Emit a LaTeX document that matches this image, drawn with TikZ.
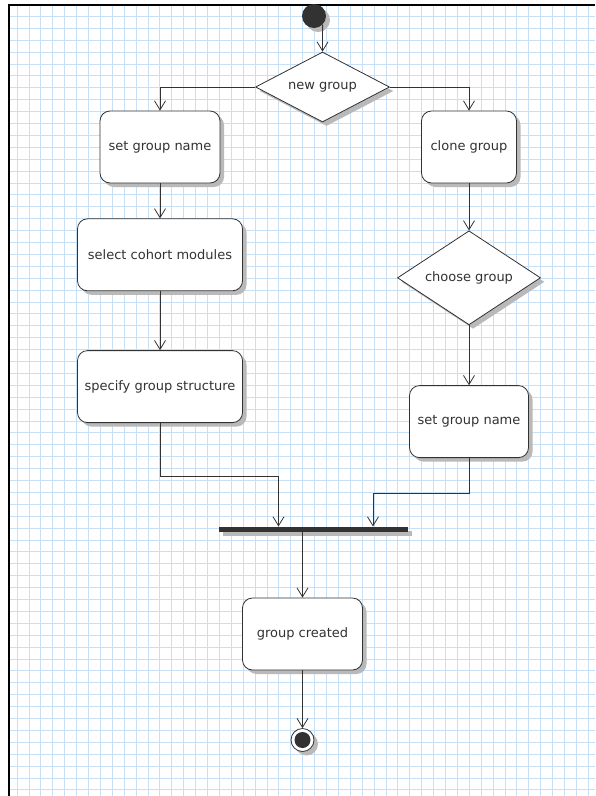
\documentclass[tikz,border=0pt]{standalone}
\usepackage{fontspec}
\setmainfont{DejaVu Sans}
\usepackage{xcolor}
\definecolor{gridblue}{RGB}{200,224,246}
\definecolor{ink}{RGB}{50,50,50}
\definecolor{shade}{RGB}{185,185,185}
\usepackage{tikz}
\usetikzlibrary{shapes.geometric,arrows.meta,positioning,shadows}

\begin{document}
\begin{tikzpicture}[x=1pt, y=-1pt,
  gridline/.style={draw=gridblue, line width=1.1pt},
  greyshadow/.style={drop shadow={shadow xshift=4pt, shadow yshift=-4pt, fill=shade, opacity=1}},
  actbox/.style={draw=ink, fill=white, rounded corners=10pt, font=\fontsize{13}{15}\selectfont, text=ink, align=center, minimum height=72pt, line width=0.8pt, greyshadow},
  decision/.style={diamond, aspect=2, inner sep=0pt, draw=ink, fill=white, font=\fontsize{13}{15}\selectfont, text=ink, line width=0.8pt, greyshadow},
  startdot/.style={circle, fill=ink, minimum size=24pt, inner sep=0pt, greyshadow},
  endring/.style={circle, draw=ink, fill=white, minimum size=23pt, inner sep=0pt, line width=0.8pt, greyshadow},
  enddot/.style={circle, fill=ink, minimum size=16pt, inner sep=0pt},
  joinbar/.style={rectangle, fill=ink, minimum width=189pt, minimum height=5.5pt, inner sep=0pt, greyshadow},
  arrow/.style={-{Straight Barb[length=9pt, width=11pt]}, draw=ink, line width=0.8pt}
]
\useasboundingbox (0,0) rectangle (595,796);

% grid paper and frame
\foreach \i in {0,...,48}
  \draw[gridline] ({round(16.7+11.9*\i)+0.5},5) -- ({round(16.7+11.9*\i)+0.5},796);
\foreach \j in {0,...,65}
  \draw[gridline] (9,{round(16+11.9*\j)+0.5}) -- (595,{round(16+11.9*\j)+0.5});
\draw[line width=2pt] (9,796) -- (9,5) -- (595,5);

\node[startdot] (start) at (314,16) {};
\node[decision, minimum width=134pt, minimum height=70pt] (newgrp) at (322.5,87) {new group};

\node[actbox, minimum width=120pt] (setname) at (160,147) {set group name};
\node[actbox, minimum width=165pt, below=35pt of setname] (cohort) {select cohort modules};
\node[actbox, minimum width=165pt, below=59pt of cohort] (structure) {specify group structure};

\node[actbox, minimum width=95pt] (clone) at (469,147) {clone group};
\node[decision, minimum width=143pt, minimum height=94pt, below=47pt of clone] (choose) {choose group};
\node[actbox, minimum width=119pt, below=60pt of choose] (setname2) {set group name};

\node[joinbar] (join) at (313.5,529.5) {};
\coordinate (inL) at (278.5,526.5);
\coordinate (inR) at (373,526.5);

\node[actbox, minimum width=120pt] (created) at (302.5,634) {group created};
\node[endring] (final) at (302.5,740) {};
\node[enddot] (finaldot) at (final) {};

\draw[arrow] (start.-45) -- (newgrp.north);
\draw[arrow] (newgrp.west) -| (setname.north);
\draw[arrow] (newgrp.east) -| (clone.north);
\draw[arrow] (setname.south) -- (cohort.north);
\draw[arrow] (cohort.south) -- (structure.north);
\draw[arrow] (clone.south) -- (choose.north);
\draw[arrow] (choose.south) -- (setname2.north);
\draw[arrow] (structure.south) -- ++(0,53) -| (inL);
\draw[arrow] (setname2.south) -- ++(0,35) -| (inR);
\draw[arrow] (join.south -| created.north) -- (created.north);
\draw[arrow] (created.south) -- (final.north);
\end{tikzpicture}
\end{document}
